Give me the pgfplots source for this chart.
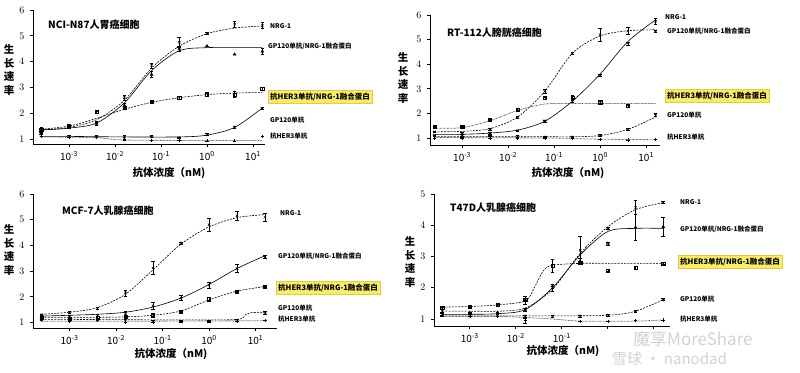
\documentclass[border=0pt]{standalone}
\usepackage{pgfplots}
\pgfplotsset{compat=1.18}
\usepackage{fontspec}
\setmainfont{Noto Sans CJK SC}
\definecolor{hl}{RGB}{248,236,110}
\definecolor{hlb}{RGB}{225,205,60}
\pgfplotsset{
  pnlstyle/.style={scale only axis, anchor=south west,
    axis x line=bottom, axis y line=left, axis line style={-, line width=0.9pt, black},
    xtick={1e-3,1e-2,1e-1,1,10},
    xticklabels={10\textsuperscript{-3},10\textsuperscript{-2},10\textsuperscript{-1},10\textsuperscript{0},10\textsuperscript{1}},
    xminorticks=false, yminorticks=false, tick align=outside, major tick length=3pt,
    tick style={line width=0.8pt, black},
    ticklabel style={font=\fontsize{10}{10}\selectfont},
    yticklabel style={xshift=-2pt},
    xticklabel style={yshift=-1pt},
    enlargelimits=false, clip=false},
  mk/.style={only marks, black, mark size=1.6pt, mark options={solid, line width=0.5pt},
    error bars/y dir=both, error bars/y explicit,
    error bars/error bar style={line width=0.45pt, solid},
    error bars/error mark options={rotate=90, mark size=1.8pt, line width=0.45pt}},
  cv/.style={black, line width=0.6pt, smooth, tension=0.5, no markers},
  sol/.style={cv, solid},
  dsh/.style={cv, dash pattern=on 2pt off 1.2pt},
  dtt/.style={cv, line width=0.8pt, dash pattern=on 0.7pt off 0.7pt, gray!70!black},
}
\newcommand{\lab}[1]{{\fontsize{6.5}{7}\selectfont\bfseries #1}}
\newcommand{\hlab}[1]{{\fontsize{7.5}{8}\selectfont\bfseries #1}}
\begin{document}
\begin{tikzpicture}[x=1pt,y=1pt]
\path[use as bounding box] (0,0) rectangle (800,372);
% ---------------- Panel 1 ----------------
\begin{axis}[xmode=log, pnlstyle, at={(33pt,228pt)}, width=231.7pt, height=134pt,
  xmin=1.65e-4, xmax=18, ymin=0.806, ymax=6, ytick={1,2,3,4,5,6}]
\addplot[dsh] coordinates {(2.5e-4,1.35)(1e-3,1.45)(4e-3,1.75)(0.016,2.5)(0.0625,3.75)(0.25,4.6)(1,5.08)(4,5.3)(16,5.38)};
\addplot[sol] coordinates {(2.5e-4,1.35)(1e-3,1.42)(4e-3,1.62)(0.016,2.4)(0.0625,3.65)(0.25,4.42)(1,4.54)(4,4.55)(16,4.55)};
\addplot[dsh] coordinates {(2.5e-4,1.38)(1e-3,1.5)(4e-3,1.8)(0.016,2.15)(0.0625,2.42)(0.25,2.6)(1,2.72)(4,2.78)(16,2.8)};
\addplot[sol] coordinates {(2.5e-4,1.1)(1e-3,1.1)(0.016,1.08)(0.25,1.08)(1,1.15)(4,1.45)(16,2.2)};
\addplot[dtt] coordinates {(2.5e-4,1.08)(4e-3,1.05)(0.016,0.96)(1,0.94)(16,0.94)};
\addplot[mk, mark=x] table[y error=e] {
x y e
2.5e-4 1.4 0.05
1e-3 1.5 0.05
4e-3 1.65 0.05
0.016 2.6 0.08
0.0625 3.85 0.1
0.25 4.75 0.2
1 5.1 0.05
4 5.45 0.1
16 5.4 0.12
};
\addplot[mk, mark=triangle*] table[y error=e] {
x y e
2.5e-4 1.3 0.05
1e-3 1.45 0.05
4e-3 1.6 0.05
0.016 2.3 0.1
0.0625 3.5 0.12
0.25 4.5 0.1
1 4.6 0
4 4.28 0
16 4.4 0.1
};
\addplot[mk, mark=square] table[y error=e] {
x y e
2.5e-4 1.35 0.05
1e-3 1.5 0.04
4e-3 2.05 0.04
0.016 2.2 0.05
0.0625 2.45 0.03
0.25 2.6 0.04
1 2.72 0.08
4 2.72 0.12
16 2.95 0.05
};
\addplot[mk, mark=triangle, mark options={rotate=180}] table[y error=e] {
x y e
2.5e-4 1.2 0.03
1e-3 1.1 0.03
4e-3 1.1 0.03
0.016 1.05 0.08
0.0625 1.1 0.03
0.25 1.05 0.03
1 1.18 0.03
4 1.47 0.04
16 2.2 0.03
};
\addplot[mk, mark=+] table[y error=e] {
x y e
2.5e-4 1.1 0
1e-3 1.08 0
4e-3 1.05 0
0.016 0.98 0
0.0625 0.95 0
0.25 0.95 0
1 0.93 0
4 0.93 0
16 1.1 0
};
\end{axis}
% ---------------- Panel 2 ----------------
\begin{axis}[xmode=log, pnlstyle, at={(430pt,227pt)}, width=230pt, height=130pt,
  xmin=2e-4, xmax=20, ymin=0.715, ymax=6, ytick={1,2,3,4,5,6}]
\addplot[sol] coordinates {(2.5e-4,1.15)(1e-3,1.15)(4e-3,1.2)(0.016,1.32)(0.0625,1.68)(0.25,2.5)(1,3.6)(4,4.92)(16,5.8)};
\addplot[dsh] coordinates {(2.5e-4,1.25)(1e-3,1.27)(4e-3,1.38)(0.016,1.85)(0.0625,2.9)(0.25,4.45)(1,5.15)(4,5.36)(16,5.4)};
\addplot[dtt] coordinates {(2.5e-4,1.4)(1e-3,1.42)(4e-3,1.7)(0.016,2.12)(0.0625,2.38)(0.25,2.4)(1,2.4)(16,2.4)};
\addplot[dsh] coordinates {(2.5e-4,1.05)(1e-3,1.05)(0.0625,1.05)(0.25,1.05)(1,1.1)(4,1.35)(16,1.85)};
\addplot[dtt] coordinates {(2.5e-4,1.02)(0.0625,1.0)(0.25,0.98)(1,0.95)(16,0.93)};
\addplot[mk, mark=x] table[y error=e] {
x y e
2.5e-4 1.1 0.03
1e-3 1.12 0.03
4e-3 1.2 0.03
0.016 1.3 0.03
0.0625 1.7 0.04
0.25 2.55 0.08
1 3.55 0.05
4 4.85 0.06
16 5.75 0.12
};
\addplot[mk, mark=x] table[y error=e] {
x y e
2.5e-4 1.25 0.03
1e-3 1.2 0.03
4e-3 1.35 0.03
0.016 1.85 0.04
0.0625 2.9 0.08
0.25 4.45 0.05
1 5.2 0.25
4 5.35 0.15
16 5.35 0.05
};
\addplot[mk, mark=square] table[y error=e] {
x y e
2.5e-4 1.45 0.03
1e-3 1.45 0.03
4e-3 1.75 0.03
0.016 2.15 0.04
0.0625 2.62 0.05
0.25 2.65 0.1
1 2.45 0.05
4 2.3 0.03
};
\addplot[mk, mark=triangle, mark options={rotate=180}] table[y error=e] {
x y e
2.5e-4 1.1 0.03
1e-3 1.05 0.03
4e-3 1.1 0.03
0.016 1.08 0.03
0.0625 1.05 0.03
0.25 1.05 0.03
1 1.12 0.03
4 1.35 0.03
16 1.95 0.07
};
\addplot[mk, mark=+] table[y error=e] {
x y e
2.5e-4 1.0 0
1e-3 1.0 0
4e-3 0.98 0
0.016 1.0 0
0.0625 1.0 0
0.25 0.98 0
1 0.95 0
4 0.92 0
16 0.95 0
};
\end{axis}
% ---------------- Panel 3 ----------------
\begin{axis}[xmode=log, pnlstyle, at={(33pt,44pt)}, width=244pt, height=134pt,
  xmin=1.64e-4, xmax=29, ymin=0.786, ymax=6, ytick={1,2,3,4,5,6}]
\addplot[dsh] coordinates {(2.5e-4,1.32)(1e-3,1.4)(4e-3,1.58)(0.016,2.1)(0.0625,3.05)(0.25,4.05)(1,4.72)(4,5.08)(16,5.2)};
\addplot[sol] coordinates {(2.5e-4,1.25)(1e-3,1.28)(4e-3,1.32)(0.016,1.4)(0.0625,1.6)(0.25,1.95)(1,2.48)(4,3.1)(16,3.6)};
\addplot[dsh] coordinates {(2.5e-4,1.2)(1e-3,1.2)(4e-3,1.2)(0.016,1.22)(0.0625,1.28)(0.25,1.45)(1,1.88)(4,2.22)(16,2.4)};
\addplot[dsh] coordinates {(2.5e-4,1.12)(1e-3,1.12)(0.25,1.1)(4,1.12)(6,1.3)(8,1.38)(16,1.4)};
\addplot[dtt] coordinates {(2.5e-4,1.05)(0.016,1.05)(1,1.06)(16,1.07)};
\addplot[mk, mark=x] table[y error=e] {
x y e
2.5e-4 1.3 0.03
1e-3 1.4 0.03
4e-3 1.55 0.03
0.016 2.15 0.12
0.0625 3.12 0.25
0.25 4.1 0.04
1 4.8 0.25
4 5.15 0.18
16 5.1 0.15
};
\addplot[mk, mark=x] table[y error=e] {
x y e
2.5e-4 1.22 0.03
1e-3 1.25 0.03
4e-3 1.28 0.03
0.016 1.35 0.07
0.0625 1.65 0.15
0.25 1.95 0.1
1 2.45 0.12
4 3.1 0.15
16 3.55 0.05
};
\addplot[mk, mark=square] table[y error=e] {
x y e
2.5e-4 1.18 0.03
1e-3 1.15 0.03
4e-3 1.2 0.03
0.016 1.22 0.03
0.0625 1.28 0.03
0.25 1.42 0.03
1 1.92 0.08
4 2.2 0.03
16 2.4 0.03
};
\addplot[mk, mark=triangle, mark options={rotate=180}] table[y error=e] {
x y e
2.5e-4 1.1 0.03
1e-3 1.1 0.03
4e-3 1.12 0.03
0.016 1.1 0.1
0.0625 1.05 0.03
0.25 1.05 0.05
1 1.05 0.03
4 1.08 0.03
16 1.38 0.05
};
\addplot[mk, mark=+] table[y error=e] {
x y e
2.5e-4 1.12 0
1e-3 1.05 0
4e-3 1.1 0
0.016 1.02 0
0.0625 1.02 0
0.25 1.05 0
1 1.05 0
4 1.05 0
16 1.08 0
};
\end{axis}
% ---------------- Panel 4 ----------------
\begin{axis}[xmode=log, pnlstyle, at={(434pt,46pt)}, width=235.6pt, height=132pt,
  xmin=1.66e-4, xmax=22, ymin=0.776, ymax=5, ytick={1,2,3,4,5},
  xticklabels={10\textsuperscript{-3},10\textsuperscript{-2},10\textsuperscript{-1},{},{}}]
\addplot[dsh] coordinates {(2.5e-4,1.25)(1e-3,1.25)(4e-3,1.25)(0.016,1.35)(0.0625,1.95)(0.25,3.1)(1,3.95)(4,4.5)(16,4.72)};
\addplot[sol] coordinates {(2.5e-4,1.15)(1e-3,1.15)(4e-3,1.17)(0.016,1.3)(0.0625,2.0)(0.25,3.05)(1,3.8)(4,3.9)(16,3.9)};
\addplot[dsh] coordinates {(2.5e-4,1.38)(1e-3,1.4)(4e-3,1.45)(0.016,1.58)(0.025,2.0)(0.04,2.55)(0.0625,2.72)(0.25,2.78)(1,2.78)(4,2.78)(16,2.78)};
\addplot[dsh] coordinates {(2.5e-4,1.1)(0.0625,1.1)(1,1.12)(4,1.25)(16,1.62)};
\addplot[dtt] coordinates {(2.5e-4,1.08)(4e-3,1.08)(0.016,1.05)(0.0625,1.0)(0.25,0.93)(1,0.93)(4,0.93)(16,0.97)};
\addplot[mk, mark=x] table[y error=e] {
x y e
2.5e-4 1.3 0.08
1e-3 1.4 0.03
4e-3 1.45 0.03
0.016 1.6 0.12
0.0625 2.0 0.1
0.25 3.2 0.45
1 3.9 0.03
4 4.57 0.22
16 4.73 0.03
};
\addplot[mk, mark=triangle*] table[y error=e] {
x y e
2.5e-4 1.2 0.03
1e-3 1.2 0.03
4e-3 1.2 0.03
0.016 1.3 0.05
0.0625 2.05 0.05
0.25 2.85 0.1
1 3.42 0.05
4 3.93 0.42
16 3.95 0.3
};
\addplot[mk, mark=square] table[y error=e] {
x y e
2.5e-4 1.35 0.05
1e-3 1.38 0.03
4e-3 1.45 0.03
0.016 1.62 0.03
0.0625 2.7 0.2
0.25 2.8 0.03
1 2.55 0.03
4 2.65 0.05
16 2.78 0.03
};
\addplot[mk, mark=triangle, mark options={rotate=180}] table[y error=e] {
x y e
2.5e-4 1.15 0.03
1e-3 1.12 0.03
4e-3 1.12 0.03
0.016 1.1 0.03
0.0625 1.1 0.03
0.25 1.1 0.03
1 1.12 0.03
4 1.25 0.03
16 1.62 0.03
};
\addplot[mk, mark=+] table[y error=e] {
x y e
2.5e-4 1.1 0
1e-3 1.08 0
4e-3 1.08 0
0.016 0.95 0.07
0.0625 1.07 0
0.25 0.93 0
1 0.93 0
4 0.95 0
16 0.97 0
};
\end{axis}
% ---------------- texts ----------------
\tikzset{lb/.style={anchor=west, inner sep=0pt, text=black},
  hb/.style={anchor=west, fill=hl, draw=hlb, line width=0.4pt, inner xsep=2pt, inner ysep=2.5pt, text=black},
  ttl/.style={anchor=west, inner sep=0pt, font=\fontsize{10}{10}\selectfont\bfseries},
  yl/.style={align=center, inner sep=0pt, font=\fontsize{10.5}{13.5}\selectfont\bfseries},
  xl/.style={inner sep=0pt, font=\fontsize{10.5}{11}\selectfont\bfseries}}
% panel 1
\node[lb] at (270,346) {\lab{NRG-1}};
\node[lb] at (268,326) {\lab{GP120单抗/NRG-1融合蛋白}};
\node[hb] at (268,275) {\hlab{抗HER3单抗/NRG-1融合蛋白}};
\node[lb] at (270,252) {\lab{GP120单抗}};
\node[lb] at (270,236) {\lab{抗HER3单抗}};
\node[ttl] at (48,347) {NCI-N87人胃癌细胞};
\node[yl] at (9,302) {生\\长\\速\\率};
\node[xl] at (169,199) {抗体浓度（nM)};
% panel 2
\node[lb] at (665,355) {\lab{NRG-1}};
\node[lb] at (667,341) {\lab{GP120单抗/NRG-1融合蛋白}};
\node[hb] at (665,276) {\hlab{抗HER3单抗/NRG-1融合蛋白}};
\node[lb] at (667,257) {\lab{GP120单抗}};
\node[lb] at (667,235) {\lab{抗HER3单抗}};
\node[ttl] at (447,339) {RT-112人膀胱癌细胞};
\node[yl] at (403,294) {生\\长\\速\\率};
\node[xl] at (568,199) {抗体浓度（nM)};
% panel 3
\node[lb] at (280,159) {\lab{NRG-1}};
\node[lb] at (278,116) {\lab{GP120单抗/NRG-1融合蛋白}};
\node[hb] at (276,84) {\hlab{抗HER3单抗/NRG-1融合蛋白}};
\node[lb] at (278,64) {\lab{GP120单抗}};
\node[lb] at (278,53) {\lab{抗HER3单抗}};
\node[ttl] at (62,161) {MCF-7人乳腺癌细胞};
\node[yl] at (9,122) {生\\长\\速\\率};
\node[xl] at (171,18) {抗体浓度（nM)};
% panel 4
\node[lb] at (680,170) {\lab{NRG-1}};
\node[lb] at (680,143) {\lab{GP120单抗/NRG-1融合蛋白}};
\node[hb] at (678,110) {\hlab{抗HER3单抗/NRG-1融合蛋白}};
\node[lb] at (680,73) {\lab{GP120单抗}};
\node[lb] at (680,53) {\lab{抗HER3单抗}};
\node[ttl] at (450,164) {T47D人乳腺癌细胞};
\node[yl] at (410,110) {生\\长\\速\\率};
\node[xl] at (563,21) {抗体浓度（nM)};
% watermark
\node[anchor=west, inner sep=0pt, text=gray!35, font=\fontsize{17}{17}\selectfont] at (633,33) {魔享MoreShare};
\node[anchor=west, inner sep=0pt, text=gray!35, font=\fontsize{15}{15}\selectfont] at (612,13) {雪球 · nanodad};
\end{tikzpicture}
\end{document}
